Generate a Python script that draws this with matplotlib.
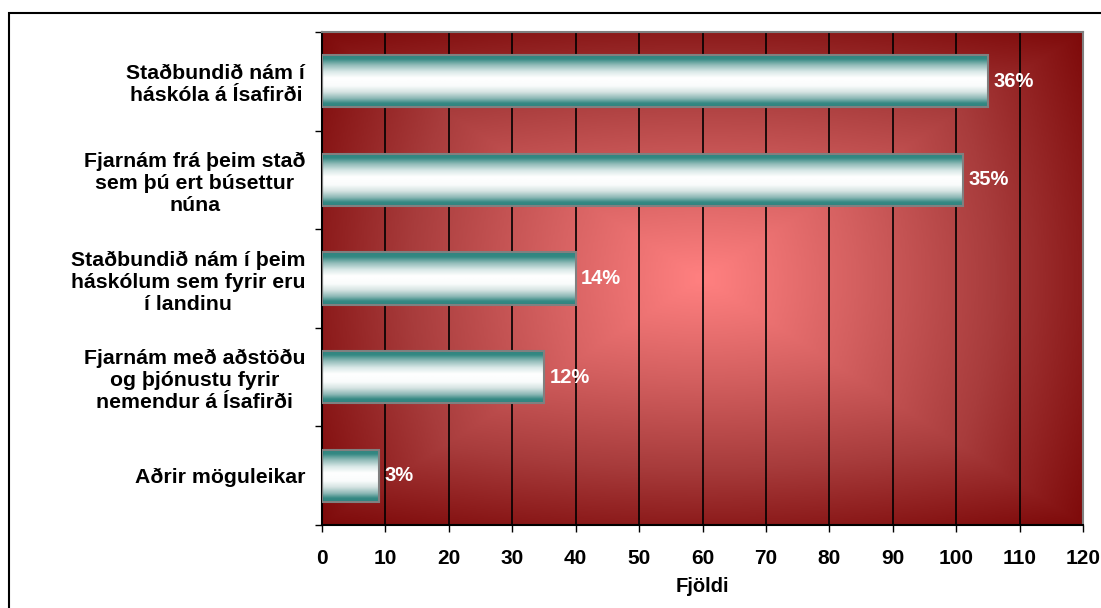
import numpy as np
import matplotlib
matplotlib.use("Agg")
import matplotlib.pyplot as plt
from matplotlib.colors import LinearSegmentedColormap
from matplotlib.patches import Rectangle

categories = [
    "Staðbundið nám í\nháskóla á Ísafirði",
    "Fjarnám frá þeim stað\nsem þú ert búsettur\nnúna",
    "Staðbundið nám í þeim\nháskólum sem fyrir eru\ní landinu",
    "Fjarnám með aðstöðu\nog þjónustu fyrir\nnemendur á Ísafirði",
    "Aðrir möguleikar",
]
values = [105, 101, 40, 35, 9]
pct_labels = ["36%", "35%", "14%", "12%", "3%"]
xticks = list(range(0, 121, 10))
xlabel = "Fjöldi"

plt.rcParams['font.family'] = ['Liberation Sans', 'DejaVu Sans']
FS = 15

fig = plt.figure(figsize=(11.01, 6.08), dpi=100)
ax = fig.add_axes([322/1101, 1-525/608, (1083-322)/1101, (525-32)/608])

n = len(categories)
ypos = np.arange(n)
ax.set_xlim(0, 120)
ax.set_ylim(n - 0.5, -0.5)

# background gradient (rectangular "from centre")
bg_cmap = LinearSegmentedColormap.from_list("bg", ["#FF8080", "#D46060", "#A83C3C", "#7E0A0A"])
gx = np.linspace(-1, 1, 400)
gy = np.linspace(-1, 1, 300)
GX, GY = np.meshgrid(gx, gy)
T = np.clip(np.maximum(np.abs(GX), np.abs(GY)) ** 1.1 * 0.6 + np.sqrt(GX**2 + GY**2) / np.sqrt(2) * 0.4, 0, 1)
ax.imshow(T, cmap=bg_cmap, extent=[0, 120, n - 0.5, -0.5], aspect='auto', zorder=0, interpolation='bilinear')

# gridlines
for xv in xticks[1:-1]:
    ax.axvline(xv, color='black', lw=1.2, zorder=1)

bars = ax.barh(ypos, values, height=0.53, color='none', edgecolor='#808080', linewidth=1.5, zorder=3)

cyl_cmap = LinearSegmentedColormap.from_list("cyl", [
    (0.0, "#2E847F"), (0.09, "#358983"), (0.2, "#8FBAB7"), (0.33, "#D9E8E7"),
    (0.45, "#FFFFFF"), (0.6, "#FAFCFC"), (0.72, "#D5E3E2"), (0.84, "#8CB8B5"),
    (0.93, "#358983"), (1.0, "#2E847F")])
grad = np.linspace(0, 1, 200).reshape(-1, 1)
for p in bars.patches:
    x0, y0, w, h = p.get_x(), p.get_y(), p.get_width(), p.get_height()
    ax.imshow(grad, cmap=cyl_cmap, extent=[x0, x0 + w, y0 + h, y0], aspect='auto', zorder=2, interpolation='bilinear')

for p, lab in zip(bars.patches, pct_labels):
    ax.annotate(lab, (p.get_x() + p.get_width(), p.get_y() + p.get_height() / 2),
                xytext=(4, 0), textcoords='offset points', ha='left', va='center',
                color='white', fontsize=14.5, fontweight='bold', zorder=5)

ax.set_xticks(xticks)
ax.set_xticklabels([str(t) for t in xticks], fontsize=FS, fontweight='bold')
ax.set_yticks(np.arange(-0.5, n, 1.0))
ax.set_yticklabels([])
ax.set_yticks(ypos, minor=True)
ax.set_yticklabels(categories, minor=True, fontsize=15.3, fontweight='bold', multialignment='center',
                   linespacing=1.2)
ax.tick_params(axis='y', which='minor', length=0, pad=12)
ax.tick_params(axis='y', which='major', length=5, direction='out', width=1)
ax.tick_params(axis='x', length=5, direction='out', width=1, pad=12.5)
ax.set_xlabel(xlabel, fontsize=14.5, fontweight='bold', labelpad=6)

for s in ['left', 'bottom']:
    ax.spines[s].set_color('black')
    ax.spines[s].set_linewidth(1.5)
for s in ['top', 'right']:
    ax.spines[s].set_color('#808080')
    ax.spines[s].set_linewidth(1.5)

# outer chart border
fig.patches.append(Rectangle((9/1101, -0.05), 1.1, 1 - 13/608 + 0.05, transform=fig.transFigure,
                             fill=False, edgecolor='black', linewidth=1.5, zorder=10))

fig.savefig("out.png", dpi=100)
